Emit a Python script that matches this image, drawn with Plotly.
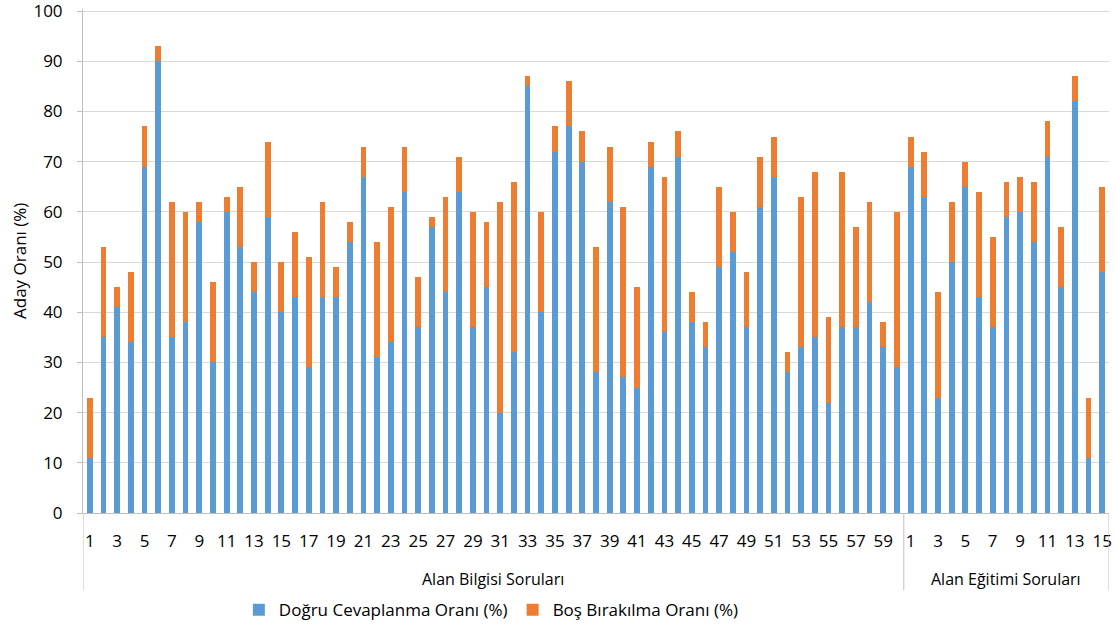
import plotly.graph_objects as go

group_names = ["Alan Bilgisi Soruları", "Alan Eğitimi Soruları"]
group_sizes = [60, 15]

dogru_bilgi = [11, 35, 41, 34, 69, 90, 35, 38, 58, 30, 60, 53, 44, 59, 40, 43, 29, 43, 43, 54,
               67, 31, 34, 64, 37, 57, 44, 64, 37, 45, 20, 32, 85, 40, 72, 77, 70, 28, 62, 27,
               25, 69, 36, 71, 38, 33, 49, 52, 37, 61, 67, 28, 33, 35, 22, 37, 37, 42, 33, 29]
bos_bilgi = [12, 18, 4, 14, 8, 3, 27, 22, 4, 16, 3, 12, 6, 15, 10, 13, 22, 19, 6, 4,
             6, 23, 27, 9, 10, 2, 19, 7, 23, 13, 42, 34, 2, 20, 5, 9, 6, 25, 11, 34,
             20, 5, 31, 5, 6, 5, 16, 8, 11, 10, 8, 4, 30, 33, 17, 31, 20, 20, 5, 31]
dogru_egitim = [69, 63, 23, 50, 65, 43, 37, 59, 60, 54, 71, 45, 82, 11, 48]
bos_egitim = [6, 9, 21, 12, 5, 21, 18, 7, 7, 12, 7, 12, 5, 12, 17]

y_ticks = [0, 10, 20, 30, 40, 50, 60, 70, 80, 90, 100]
y_title = "Aday Oranı (%)"

series_names = ["Doğru Cevaplanma Oranı (%)", "Boş Bırakılma Oranı (%)"]
colors = ["#5B9BD5", "#ED7D31"]

dogru = dogru_bilgi + dogru_egitim
bos = bos_bilgi + bos_egitim
n = len(dogru)
xs = list(range(n))

# tick labels: question numbers within each group, every other shown
tickvals, ticktext = [], []
start = 0
for size in group_sizes:
    for q in range(1, size + 1, 2):
        tickvals.append(start + q - 1)
        ticktext.append(str(q))
    start += size

fig = go.Figure()
fig.add_trace(go.Bar(x=xs, y=dogru, name=series_names[0], marker=dict(color=colors[0], line=dict(width=0))))
fig.add_trace(go.Bar(x=xs, y=bos, name=series_names[1], marker=dict(color=colors[1], line=dict(width=0))))

font_family = "Open Sans, Liberation Sans, DejaVu Sans"
axis_gray = "#BFBFBF"

# group dividers and labels
shapes = []
annotations = []
bounds = [-0.5]
for size in group_sizes:
    bounds.append(bounds[-1] + size)
for b in bounds:
    shapes.append(dict(type="line", xref="x", yref="paper", x0=b, x1=b, y0=0, y1=-0.153,
                       line=dict(color=axis_gray, width=1)))
for i, name in enumerate(group_names):
    annotations.append(dict(xref="x", yref="paper", x=(bounds[i] + bounds[i + 1]) / 2, y=-0.13,
                            text=name, showarrow=False, yanchor="middle",
                            font=dict(size=16, color="#000000", family=font_family)))
# y-axis title
annotations.append(dict(xref="paper", yref="paper", x=-0.0624, y=0.5, text=y_title,
                        textangle=-90, showarrow=False, xanchor="center", yanchor="middle",
                        font=dict(size=17, color="#000000", family=font_family)))

fig.update_layout(
    barmode="stack",
    bargap=0.58,
    autosize=False,
    width=1116, height=629,
    margin=dict(l=83, r=7, t=9, b=116, autoexpand=False),
    plot_bgcolor="white", paper_bgcolor="white",
    font=dict(family=font_family, color="#000000"),
    shapes=shapes,
    annotations=annotations,
    legend=dict(orientation="h", x=0.398, xanchor="center", yref="container", y=0.03,
                yanchor="middle", font=dict(size=17, color="#000000"), traceorder="normal"),
    xaxis=dict(range=[-0.5, n - 0.5], tickmode="array", tickvals=tickvals, ticktext=ticktext,
               tickangle=0, showgrid=False, zeroline=False, showline=True, linecolor=axis_gray,
               ticks="", tickfont=dict(size=17), ticklabelstandoff=13, automargin=False),
    yaxis=dict(range=[0, 100.4], tickmode="array", tickvals=y_ticks, showgrid=True,
               gridcolor="#D9D9D9", gridwidth=1, ticklabeloverflow="allow",
               zeroline=False, showline=True, linecolor=axis_gray, ticks="outside", ticklen=5,
               tickcolor=axis_gray, tickfont=dict(size=17), automargin=False, ticklabelstandoff=11),
)

fig.write_html("out.html", config={"displayModeBar": False, "responsive": False},
               default_width="1116px", default_height="629px",
               post_script="document.body.style.margin='0';")
